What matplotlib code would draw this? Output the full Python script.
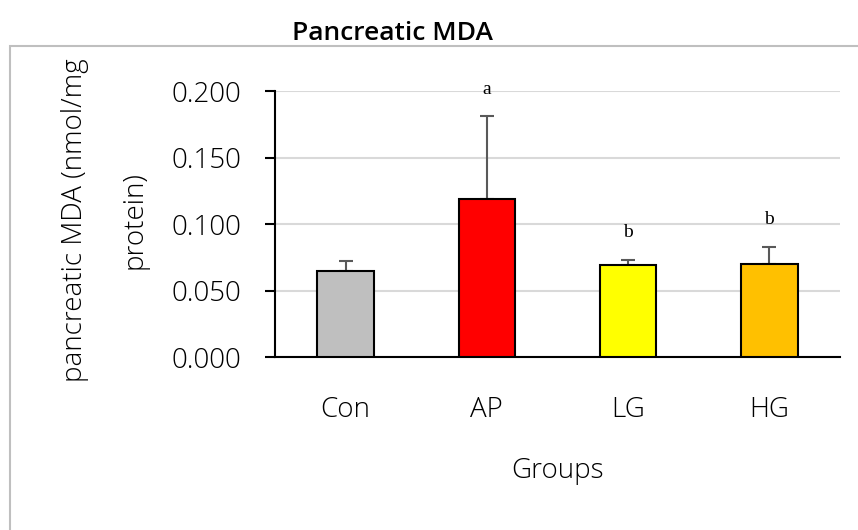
import matplotlib.pyplot as plt
from matplotlib.patches import Rectangle

groups = ['Con', 'AP', 'LG', 'HG']
mda = [0.065, 0.119, 0.069, 0.070]
sd = [0.007, 0.062, 0.004, 0.013]
letters = ['', 'a', 'b', 'b']
bar_colors = ['#bfbfbf', '#ff0000', '#ffff00', '#ffc000']

plt.rcParams['font.family'] = ['Open Sans', 'DejaVu Sans']

fig = plt.figure(figsize=(8.58, 5.30), dpi=100)

# chart area frame
fig.patches.append(Rectangle((0.012, -0.05), 1.2, 0.963, transform=fig.transFigure,
                             fill=False, edgecolor='#bfbfbf', linewidth=1.5))
fig.text(0.458, 0.937, 'Pancreatic MDA', ha='center', va='center', fontsize=19,
         fontweight='semibold')

ax = fig.add_axes([0.3205, 0.3264, 0.6585, 0.5019])
x = range(len(groups))
ax.bar(x, mda, width=0.4, color=bar_colors, edgecolor='black', linewidth=1.5, zorder=3)
ax.errorbar(x, mda, yerr=[[0] * len(sd), sd], fmt='none', ecolor='#595959',
            elinewidth=1.5, capsize=5, capthick=1.5, zorder=2)
# significance letters above the error bars
for i, lab in enumerate(letters):
    if lab:
        ax.text(i, mda[i] + sd[i] + 0.014, lab, ha='center', va='bottom',
                family='Liberation Serif', fontsize=14)

ax.set_xlim(-0.5, 3.5)
ax.set_ylim(0, 0.2)
ax.set_yticks([0, 0.05, 0.1, 0.15, 0.2])
ax.set_yticklabels(['0.000', '0.050', '0.100', '0.150', '0.200'], fontweight='light')
ax.set_xticks(list(x))
ax.set_xticklabels(groups, fontweight='light')
ax.tick_params(axis='y', labelsize=20, length=7.5, width=1.5, direction='out', pad=17)
ax.tick_params(axis='x', labelsize=20, length=0, pad=28)
ax.yaxis.grid(True, color='#d9d9d9', linewidth=1.5, zorder=0)
ax.set_axisbelow(True)
for s in ['top', 'right']:
    ax.spines[s].set_visible(False)
ax.spines['left'].set_linewidth(1.5)
ax.spines['bottom'].set_linewidth(1.5)

ax.set_xlabel('Groups', fontsize=20, fontweight='light', labelpad=24)
fig.text(0.087, 0.585, 'pancreatic MDA (nmol/mg', rotation=90, ha='center', va='center',
         fontsize=20, fontweight='light')
fig.text(0.157, 0.585, 'protein)', rotation=90, ha='center', va='center',
         fontsize=20, fontweight='light')

fig.savefig('out.png', dpi=100)
